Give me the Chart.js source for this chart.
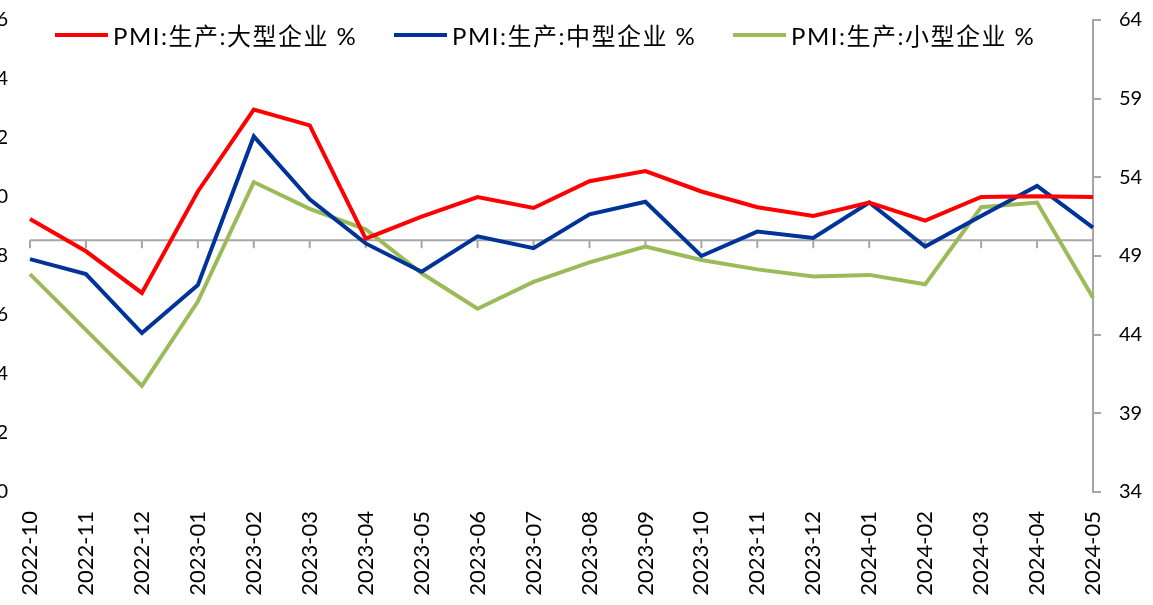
<!DOCTYPE html>
<html>
<head>
<meta charset="utf-8">
<script src="https://cdn.jsdelivr.net/npm/chart.js@4"></script>
<style>
    body { margin: 0; width: 1153px; height: 605px; overflow: hidden; background: #fff; position: relative; }
    #chart { position: absolute; left: -15px; top: 0; }
    .legend { position: absolute; top: 17px; left: 55px; display: flex; align-items: center;
              font-family: Lato, 'Noto Sans CJK SC', sans-serif; font-size: 24px; letter-spacing: 1.5px; color: #000; }
    .legend-item { display: flex; align-items: center; width: 339px; white-space: nowrap; }
    .legend-line { width: 53px; height: 4px; margin-right: 5px; }
</style>
</head>
<body>
<canvas id="chart" width="1168" height="605"></canvas>
<div class="legend" id="legend"></div>
<script>
const categories = [
    '2022-10', '2022-11', '2022-12', '2023-01', '2023-02', '2023-03', '2023-04',
    '2023-05', '2023-06', '2023-07', '2023-08', '2023-09', '2023-10', '2023-11',
    '2023-12', '2024-01', '2024-02', '2024-03', '2024-04', '2024-05'
];
const largeValues = [51.35, 49.3, 46.65, 53.1, 58.3, 57.3, 50.1, 51.5, 52.75, 52.05,
    53.75, 54.4, 53.1, 52.1, 51.55, 52.4, 51.25, 52.75, 52.8, 52.75];
const mediumValues = [48.8, 47.85, 44.1, 47.15, 56.6, 52.6, 49.8, 48.0, 50.25, 49.5,
    51.65, 52.45, 49.0, 50.55, 50.15, 52.4, 49.6, 51.55, 53.45, 50.8];
const smallValues = [47.85, 44.3, 40.75, 46.1, 53.7, 52.0, 50.7, 47.9, 45.65, 47.35,
    48.6, 49.6, 48.75, 48.15, 47.7, 47.8, 47.2, 52.1, 52.4, 46.35];
const seriesNames = ['PMI:生产:大型企业 %', 'PMI:生产:中型企业 %', 'PMI:生产:小型企业 %'];
const seriesColors = ['#ff0000', '#003399', '#9bbb59'];
const axisValue = 50;

const fontFamily = "Lato, 'Noto Sans CJK SC', sans-serif";

// horizontal axis line crossing at 50 on the right scale, with tick marks
const axisAt50 = {
    id: 'axisAt50',
    beforeDatasetsDraw(chart) {
        const { ctx, scales } = chart;
        const x = scales.x;
        const yPix = scales.y1.getPixelForValue(axisValue);
        ctx.save();
        ctx.strokeStyle = '#a6a6a6';
        ctx.lineWidth = 2;
        ctx.beginPath();
        ctx.moveTo(x.left, yPix);
        ctx.lineTo(x.right, yPix);
        for (let i = 0; i < categories.length; i++) {
            const px = x.getPixelForValue(i);
            ctx.moveTo(px, yPix);
            ctx.lineTo(px, yPix + 8);
        }
        ctx.stroke();
        ctx.restore();
    }
};

// fixed axis sizes, no extra room for overhanging labels
function fixSize(size) {
    return function (scale) {
        scale.paddingLeft = 0;
        scale.paddingRight = 0;
        scale.paddingTop = 0;
        scale.paddingBottom = 0;
        if (scale.isHorizontal()) scale.height = size;
        else scale.width = size;
    };
}

const allValues = [largeValues, mediumValues, smallValues];

new Chart(document.getElementById('chart'), {
    type: 'line',
    data: {
        labels: categories,
        datasets: allValues.map((vals, i) => ({
            label: seriesNames[i],
            data: vals,
            borderColor: seriesColors[i],
            backgroundColor: seriesColors[i],
            borderWidth: 4,
            pointRadius: 0,
            tension: 0,
            yAxisID: 'y1'
        }))
    },
    options: {
        responsive: false,
        animation: false,
        layout: { padding: { top: 20, right: 11, bottom: 4, left: 0 } },
        plugins: {
            legend: { display: false },
            tooltip: { enabled: false }
        },
        scales: {
            x: {
                offset: false,
                grid: { display: false, drawTicks: false },
                border: { display: false },
                afterFit: fixSize(109),
                ticks: {
                    minRotation: 90,
                    maxRotation: 90,
                    padding: 19,
                    color: '#000',
                    font: { family: fontFamily, size: 22 }
                }
            },
            y: {
                position: 'left',
                min: 40,
                max: 56,
                grid: { display: false, drawTicks: false },
                border: { display: false },
                afterFit: fixSize(45),
                ticks: {
                    stepSize: 2,
                    padding: 22,
                    color: '#000',
                    font: { family: fontFamily, size: 20 }
                }
            },
            y1: {
                position: 'right',
                min: 34,
                max: 64,
                grid: {
                    drawOnChartArea: false,
                    drawTicks: true,
                    tickLength: 8,
                    color: '#a6a6a6',
                    lineWidth: 2
                },
                border: { display: true, color: '#a6a6a6', width: 2 },
                afterFit: fixSize(49),
                ticks: {
                    stepSize: 5,
                    padding: 18,
                    color: '#000',
                    font: { family: fontFamily, size: 20 }
                }
            }
        }
    },
    plugins: [axisAt50]
});

const legend = document.getElementById('legend');
seriesNames.forEach((name, i) => {
    const item = document.createElement('div');
    item.className = 'legend-item';
    const line = document.createElement('span');
    line.className = 'legend-line';
    line.style.background = seriesColors[i];
    const text = document.createElement('span');
    text.textContent = name;
    item.appendChild(line);
    item.appendChild(text);
    legend.appendChild(item);
});
</script>
</body>
</html>
